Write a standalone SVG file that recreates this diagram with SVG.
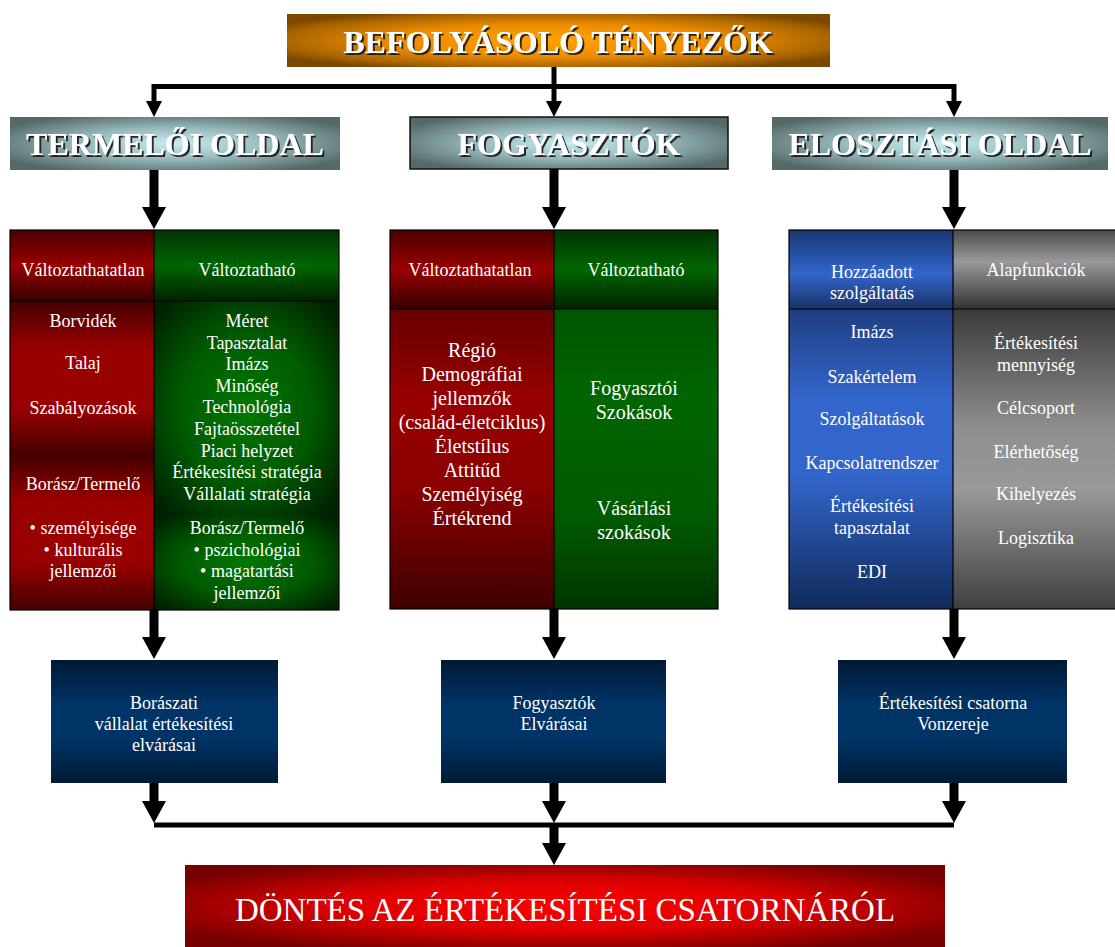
<svg xmlns="http://www.w3.org/2000/svg" width="1115" height="947" viewBox="0 0 1115 947">
<defs>
<style>
.sf{font-family:"Liberation Serif","Times New Roman",serif;fill:#fff;text-anchor:middle}
.t18{font-size:18px}
.t20{font-size:20px}
.hd{font-size:32px;font-weight:bold;filter:url(#sh)}
.bn{font-size:33px}
.cn{fill:none;stroke:#000;stroke-width:5}
.ck{fill:none;stroke:#000;stroke-width:9}
.bd{fill:none;stroke:#000;stroke-width:1.2}
</style>
<filter id="sh" x="-5%" y="-20%" width="115%" height="150%"><feDropShadow dx="2" dy="2" stdDeviation="0.6" flood-color="#151515" flood-opacity="0.9"/></filter>
<marker id="as" markerUnits="userSpaceOnUse" markerWidth="16" markerHeight="16" viewBox="0 0 16 16" refX="0" refY="8" orient="auto"><path d="M0,0 L16,8 L0,16 Z" fill="#000"/></marker>
<marker id="al" markerUnits="userSpaceOnUse" markerWidth="22" markerHeight="24" viewBox="0 0 22 24" refX="0" refY="12" orient="auto"><path d="M0,0 L22,12 L0,24 Z" fill="#000"/></marker>
<radialGradient id="gOr" cx="50%" cy="50%" r="60%"><stop offset="0" stop-color="#ffa200"/><stop offset="0.5" stop-color="#ee8c00"/><stop offset="0.85" stop-color="#a86400"/><stop offset="1" stop-color="#7a4800"/></radialGradient>
<radialGradient id="gTe" cx="50%" cy="50%" r="60%"><stop offset="0" stop-color="#c8ecf0"/><stop offset="0.5" stop-color="#96b8bb"/><stop offset="1" stop-color="#566868"/></radialGradient>
<radialGradient id="gBn" cx="50%" cy="50%" r="60%"><stop offset="0" stop-color="#ff0000"/><stop offset="0.5" stop-color="#dd0000"/><stop offset="1" stop-color="#760000"/></radialGradient>
<radialGradient id="gGR" cx="50%" cy="50%" r="65%"><stop offset="0" stop-color="#007800"/><stop offset="0.55" stop-color="#005a00"/><stop offset="1" stop-color="#002200"/></radialGradient>
<linearGradient id="gRS" x1="0" y1="0" x2="0" y2="1"><stop offset="0" stop-color="#440000"/><stop offset="0.3" stop-color="#990000"/><stop offset="0.7" stop-color="#990000"/><stop offset="1" stop-color="#440000"/></linearGradient>
<linearGradient id="gRH" x1="0" y1="0" x2="0" y2="1"><stop offset="0" stop-color="#4a0000"/><stop offset="0.5" stop-color="#990000"/><stop offset="1" stop-color="#360000"/></linearGradient>
<linearGradient id="gGH" x1="0" y1="0" x2="0" y2="1"><stop offset="0" stop-color="#003300"/><stop offset="0.5" stop-color="#006600"/><stop offset="1" stop-color="#002200"/></linearGradient>
<linearGradient id="gRB2" x1="0" y1="0" x2="0" y2="1"><stop offset="0" stop-color="#660000"/><stop offset="0.3" stop-color="#990000"/><stop offset="0.6" stop-color="#8a0000"/><stop offset="1" stop-color="#3f0000"/></linearGradient>
<linearGradient id="gGB2" x1="0" y1="0" x2="0" y2="1"><stop offset="0" stop-color="#005500"/><stop offset="0.3" stop-color="#006600"/><stop offset="0.7" stop-color="#005a00"/><stop offset="1" stop-color="#003300"/></linearGradient>
<linearGradient id="gBH" x1="0" y1="0" x2="0" y2="1"><stop offset="0" stop-color="#1a3670"/><stop offset="0.55" stop-color="#3366cc"/><stop offset="1" stop-color="#1a3266"/></linearGradient>
<linearGradient id="gBB" x1="0" y1="0" x2="0" y2="1"><stop offset="0" stop-color="#1f3d80"/><stop offset="0.3" stop-color="#3366cc"/><stop offset="0.55" stop-color="#3366cc"/><stop offset="1" stop-color="#102a5a"/></linearGradient>
<linearGradient id="gAH" x1="0" y1="0" x2="0" y2="1"><stop offset="0" stop-color="#4a4a4a"/><stop offset="0.4" stop-color="#999"/><stop offset="1" stop-color="#333"/></linearGradient>
<linearGradient id="gAB" x1="0" y1="0" x2="0" y2="1"><stop offset="0" stop-color="#3a3a3a"/><stop offset="0.4" stop-color="#8f8f8f"/><stop offset="0.6" stop-color="#999"/><stop offset="1" stop-color="#3f3f3f"/></linearGradient>
<linearGradient id="gNv" x1="0" y1="0" x2="0" y2="1"><stop offset="0" stop-color="#001a33"/><stop offset="0.35" stop-color="#003366"/><stop offset="0.65" stop-color="#003366"/><stop offset="1" stop-color="#001a33"/></linearGradient>
</defs>
<rect width="1115" height="947" fill="#fff"/>

<g id="connectors">
<path class="cn" d="M554,67 V101" marker-end="url(#as)"/>
<path class="cn" d="M554,86.5 H154 V101" marker-end="url(#as)"/>
<path class="cn" d="M554,86.5 H954 V101" marker-end="url(#as)"/>
<path class="ck" d="M154,170 V207" marker-end="url(#al)"/>
<path class="ck" d="M554,169 V207" marker-end="url(#al)"/>
<path class="ck" d="M954,170 V207" marker-end="url(#al)"/>
<path class="ck" d="M154,610 V637" marker-end="url(#al)"/>
<path class="ck" d="M554,609 V637" marker-end="url(#al)"/>
<path class="ck" d="M954,609 V637" marker-end="url(#al)"/>
<path class="ck" d="M154,783 V801" marker-end="url(#al)"/>
<path class="ck" d="M554,783 V801" marker-end="url(#al)"/>
<path class="ck" d="M954,783 V801" marker-end="url(#al)"/>
<path class="cn" d="M154,825 H954"/>
<path class="ck" d="M554,825 V843" marker-end="url(#al)"/>
</g>

<g id="befolyasolo">
<rect x="287" y="14" width="543" height="53" fill="url(#gOr)"/>
<text class="sf hd" x="558" y="53">BEFOLYÁSOLÓ TÉNYEZŐK</text>
</g>

<g id="termeloi">
<rect x="10" y="117" width="330" height="53" fill="url(#gTe)"/>
<text class="sf hd" x="175" y="155">TERMELŐI OLDAL</text>
</g>
<g id="fogyasztok">
<rect x="410" y="117" width="318" height="52" fill="url(#gTe)" stroke="#111" stroke-width="1.5"/>
<text class="sf hd" x="569" y="155">FOGYASZTÓK</text>
</g>
<g id="elosztasi">
<rect x="772" y="117" width="336" height="53" fill="url(#gTe)"/>
<text class="sf hd" x="940" y="155">ELOSZTÁSI OLDAL</text>
</g>

<g id="termeloi-panel">
<rect x="10" y="230" width="144" height="71" fill="url(#gRH)"/>
<rect x="154" y="230" width="185" height="71" fill="url(#gGH)"/>
<rect x="10" y="301" width="144" height="154" fill="url(#gRS)"/>
<rect x="10" y="455" width="144" height="155" fill="url(#gRS)"/>
<rect x="154" y="301" width="185" height="214" fill="url(#gGR)"/>
<rect x="154" y="515" width="185" height="95" fill="url(#gGR)"/>
<rect class="bd" x="10" y="230" width="329" height="380"/>
<path class="bd" d="M154,230 V610 M10,301 H339"/>
<text class="sf t18"><tspan x="83" y="276">Változtathatatlan</tspan><tspan x="83" y="327">Borvidék</tspan><tspan x="83" y="369">Talaj</tspan><tspan x="83" y="414">Szabályozások</tspan><tspan x="83" y="490">Borász/Termelő</tspan><tspan x="83" y="534">• személyisége</tspan><tspan x="83" y="555.6">• kulturális</tspan><tspan x="83" y="577.2">jellemzői</tspan></text>
<text class="sf t18"><tspan x="247" y="276">Változtatható</tspan><tspan x="247" y="327">Méret</tspan><tspan x="247" y="348.6">Tapasztalat</tspan><tspan x="247" y="370.2">Imázs</tspan><tspan x="247" y="391.8">Minőség</tspan><tspan x="247" y="413.4">Technológia</tspan><tspan x="247" y="435">Fajtaösszetétel</tspan><tspan x="247" y="456.6">Piaci helyzet</tspan><tspan x="247" y="478.2">Értékesítési stratégia</tspan><tspan x="247" y="499.8">Vállalati stratégia</tspan><tspan x="247" y="534">Borász/Termelő</tspan><tspan x="247" y="555.6">• pszichológiai</tspan><tspan x="247" y="577.2">• magatartási</tspan><tspan x="247" y="598.8">jellemzői</tspan></text>
</g>

<g id="fogyasztok-panel">
<rect x="390" y="230" width="164" height="79" fill="url(#gRH)"/>
<rect x="554" y="230" width="164" height="79" fill="url(#gGH)"/>
<rect x="390" y="309" width="164" height="300" fill="url(#gRB2)"/>
<rect x="554" y="309" width="164" height="300" fill="url(#gGB2)"/>
<rect class="bd" x="390" y="230" width="328" height="379"/>
<path class="bd" d="M554,230 V609 M390,309 H718"/>
<text class="sf t18"><tspan x="470" y="276">Változtathatatlan</tspan></text>
<text class="sf t18"><tspan x="636" y="276">Változtatható</tspan></text>
<text class="sf t20"><tspan x="472" y="357">Régió</tspan><tspan x="472" y="381">Demográfiai</tspan><tspan x="472" y="405">jellemzők</tspan><tspan x="472" y="429">(család-életciklus)</tspan><tspan x="472" y="453">Életstílus</tspan><tspan x="472" y="477">Attitűd</tspan><tspan x="472" y="501">Személyiség</tspan><tspan x="472" y="525">Értékrend</tspan></text>
<text class="sf t20"><tspan x="634" y="395">Fogyasztói</tspan><tspan x="634" y="419">Szokások</tspan><tspan x="634" y="515">Vásárlási</tspan><tspan x="634" y="539">szokások</tspan></text>
</g>

<g id="elosztasi-panel">
<rect x="789" y="230" width="164" height="79" fill="url(#gBH)"/>
<rect x="953" y="230" width="165" height="79" fill="url(#gAH)"/>
<rect x="789" y="309" width="164" height="300" fill="url(#gBB)"/>
<rect x="953" y="309" width="165" height="300" fill="url(#gAB)"/>
<rect class="bd" x="789" y="230" width="329" height="379"/>
<path class="bd" d="M953,230 V609 M789,309 H1118"/>
<text class="sf t18"><tspan x="872" y="278">Hozzáadott</tspan><tspan x="872" y="299">szolgáltatás</tspan><tspan x="872" y="338">Imázs</tspan><tspan x="872" y="383">Szakértelem</tspan><tspan x="872" y="425">Szolgáltatások</tspan><tspan x="872" y="469">Kapcsolatrendszer</tspan><tspan x="872" y="512">Értékesítési</tspan><tspan x="872" y="534">tapasztalat</tspan><tspan x="872" y="578">EDI</tspan></text>
<text class="sf t18"><tspan x="1036" y="276">Alapfunkciók</tspan><tspan x="1036" y="349">Értékesítési</tspan><tspan x="1036" y="371">mennyiség</tspan><tspan x="1036" y="414">Célcsoport</tspan><tspan x="1036" y="458">Elérhetőség</tspan><tspan x="1036" y="500">Kihelyezés</tspan><tspan x="1036" y="544">Logisztika</tspan></text>
</g>

<g id="boraszati-elvarasai">
<rect x="51" y="660" width="227" height="123" fill="url(#gNv)"/>
<text class="sf t18"><tspan x="164" y="709">Borászati</tspan><tspan x="164" y="730">vállalat értékesítési</tspan><tspan x="164" y="751">elvárásai</tspan></text>
</g>
<g id="fogyasztok-elvarasai">
<rect x="441" y="660" width="225" height="123" fill="url(#gNv)"/>
<text class="sf t18"><tspan x="554" y="709">Fogyasztók</tspan><tspan x="554" y="730">Elvárásai</tspan></text>
</g>
<g id="csatorna-vonzereje">
<rect x="838" y="660" width="229" height="123" fill="url(#gNv)"/>
<text class="sf t18"><tspan x="953" y="709">Értékesítési csatorna</tspan><tspan x="953" y="730">Vonzereje</tspan></text>
</g>

<g id="dontes">
<rect x="185" y="865" width="760" height="82" fill="url(#gBn)"/>
<text class="sf bn" x="565" y="921">DÖNTÉS AZ ÉRTÉKESÍTÉSI CSATORNÁRÓL</text>
</g>
</svg>
